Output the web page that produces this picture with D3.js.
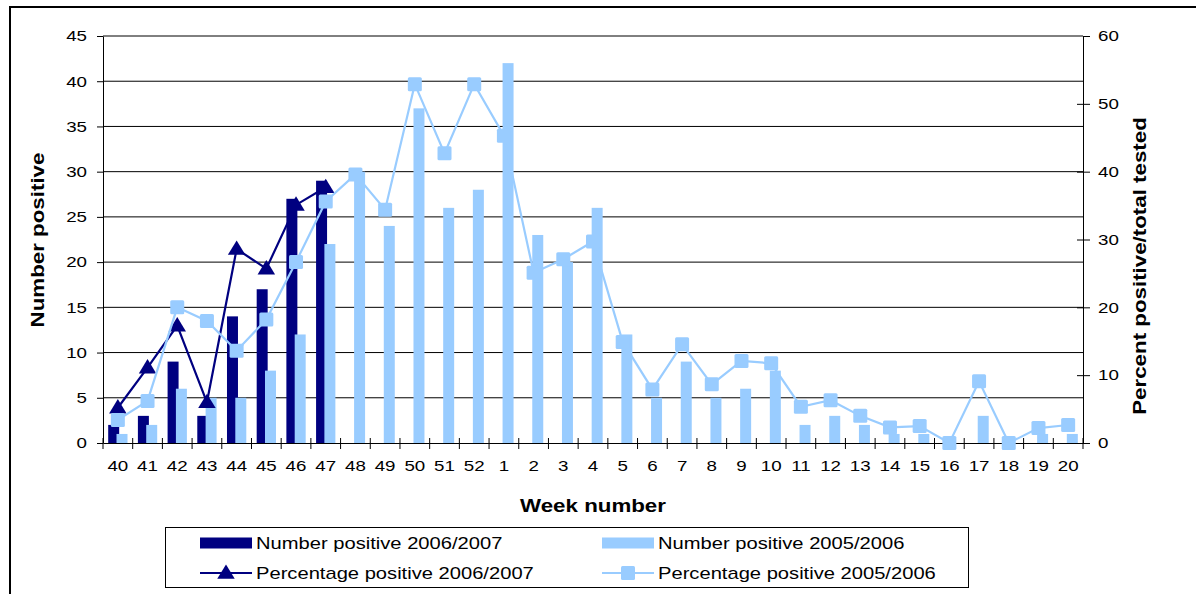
<!DOCTYPE html>
<html>
<head>
<meta charset="utf-8">
<script src="https://cdn.jsdelivr.net/npm/d3@7"></script>
<style>
  html, body { margin: 0; padding: 0; background: #fff; }
  svg { display: block; font-family: "Liberation Sans", Arial, sans-serif; }
  .sx { transform-box: fill-box; transform: scaleX(1.25); }
  .sx-end { transform-origin: right center; }
  .sx-start { transform-origin: left center; }
  .sx-mid { transform-origin: center center; }
</style>
</head>
<body>
<script>
// ---- data ----
const weeks = ["40","41","42","43","44","45","46","47","48","49","50","51","52",
               "1","2","3","4","5","6","7","8","9","10","11","12","13","14","15","16","17","18","19","20"];
const numPos0607 = [2, 3, 9, 3, 14, 17, 27, 29];                 // weeks 40-47
const numPos0506 = [1, 2, 6, 5, 5, 8, 12, 22, 30, 24, 37, 26, 28,
                    42, 23, 20, 26, 12, 5, 9, 5, 6, 8, 2, 3, 2, 1, 1, 0, 3, 0, 1, 1];
const pctPos0607 = [5.2, 11.1, 17.3, 6, 28.6, 25.7, 35.1, 37.7];
const pctPos0506 = [3.4, 6.2, 20, 18, 13.6, 18.2, 26.7, 35.6, 39.6, 34.4, 52.9, 42.7, 52.9,
                    45.3, 25.1, 27.1, 29.7, 14.9, 7.9, 14.55, 8.65, 12.1, 11.75, 5.35, 6.3, 4.0, 2.3, 2.5, 0, 9.1, 0, 2.2, 2.65];
const leftTicks = [0, 5, 10, 15, 20, 25, 30, 35, 40, 45];
const rightTicks = [0, 10, 20, 30, 40, 50, 60];
const legendLabels = ["Number positive 2006/2007", "Number positive 2005/2006",
                      "Percentage positive 2006/2007", "Percentage positive 2005/2006"];

const DARK = "#000080", LIGHT = "#99CCFF";
const W = 1196, H = 594;
const L = 103, R = 1083, T = 36, B = 443;

const svg = d3.select("body").append("svg").attr("width", W).attr("height", H);

// outer frame (partial)
svg.append("line").attr("x1", 9).attr("x2", W).attr("y1", 7).attr("y2", 7).attr("stroke", "#000").attr("stroke-width", 2);
svg.append("line").attr("x1", 10).attr("x2", 10).attr("y1", 6).attr("y2", H).attr("stroke", "#000").attr("stroke-width", 2);

const x = d3.scaleBand().domain(weeks).range([L, R]).padding(0);
const yL = d3.scaleLinear().domain([0, 45]).range([B, T]);
const yR = d3.scaleLinear().domain([0, 60]).range([B, T]);
const cw = x.bandwidth();
const bw = cw * 0.37, off = cw * 0.14;

// gridlines
svg.append("g").selectAll("line").data(leftTicks.filter(d => d > 0)).join("line")
  .attr("x1", L).attr("x2", R).attr("y1", d => yL(d)).attr("y2", d => yL(d))
  .attr("stroke", "#000").attr("stroke-width", 1);

// bars
svg.append("g").selectAll("rect").data(numPos0607).join("rect")
  .attr("x", (d, i) => x(weeks[i]) + cw / 2 - off - bw / 2)
  .attr("width", bw)
  .attr("y", d => yL(d)).attr("height", d => yL(0) - yL(d))
  .attr("fill", DARK);
svg.append("g").selectAll("rect").data(numPos0506).join("rect")
  .attr("x", (d, i) => x(weeks[i]) + cw / 2 + off - bw / 2)
  .attr("width", bw)
  .attr("y", d => yL(d)).attr("height", d => yL(0) - yL(d))
  .attr("fill", LIGHT);

// axes
const gL = svg.append("g").attr("transform", `translate(${L},0)`)
  .call(d3.axisLeft(yL).tickValues(leftTicks).tickSize(6).tickSizeOuter(0));
gL.selectAll("text").attr("x", -16).attr("class", "sx sx-end");

const gR = svg.append("g").attr("transform", `translate(${R},0)`)
  .call(d3.axisRight(yR).tickValues(rightTicks).tickSize(7).tickSizeOuter(0));
gR.selectAll("text").attr("x", 15).attr("class", "sx sx-start");
svg.append("g").attr("transform", `translate(${R},0)`)
  .call(d3.axisLeft(yR).tickValues(rightTicks.filter(d => d > 0 && d < 60)).tickSize(6).tickSizeOuter(0).tickFormat(""))
  .select(".domain").remove();

const gB = svg.append("g").attr("transform", `translate(0,${B})`)
  .call(d3.axisBottom(x).tickSize(0).tickSizeOuter(0));
gB.selectAll("text").attr("y", 17.5).attr("class", "sx sx-mid");
// category boundary ticks
svg.append("g").selectAll("line").data(weeks.map(w => x(w)).concat([R])).join("line")
  .attr("x1", d => d).attr("x2", d => d).attr("y1", B - 5).attr("y2", B + 6)
  .attr("stroke", "#000").attr("stroke-width", 1);

[gL, gR, gB].forEach(g => {
  g.selectAll("text").attr("font-size", 15).attr("fill", "#000")
    .attr("font-family", "Liberation Sans, Arial, sans-serif");
  g.selectAll("line").attr("stroke", "#000");
  g.select(".domain").attr("stroke", "#000");
});

// lines
const cx = w => x(w) + cw / 2;
const lineR = d3.line().x(d => cx(d.w)).y(d => yR(d.v));
const s0607 = pctPos0607.map((v, i) => ({ w: weeks[i], v }));
const s0506 = pctPos0506.map((v, i) => ({ w: weeks[i], v }));

const tri = d3.symbol().type(d3.symbolTriangle).size(120);
svg.append("path").datum(s0607).attr("d", lineR).attr("fill", "none").attr("stroke", DARK).attr("stroke-width", 2.2);
svg.append("g").selectAll("path").data(s0607).join("path")
  .attr("transform", d => `translate(${cx(d.w)},${yR(d.v) + 1}) scale(1.05,1)`)
  .attr("d", tri).attr("fill", DARK);

svg.append("path").datum(s0506).attr("d", lineR).attr("fill", "none").attr("stroke", LIGHT).attr("stroke-width", 2.2);
svg.append("g").selectAll("rect").data(s0506).join("rect")
  .attr("x", d => cx(d.w) - 7).attr("y", d => yR(d.v) - 7)
  .attr("width", 14).attr("height", 14).attr("rx", 1.5).attr("fill", LIGHT);

// axis titles
svg.append("text").attr("transform", "translate(44,240) rotate(-90) scale(1.24,1)")
  .attr("text-anchor", "middle").attr("font-size", 18).attr("font-weight", "bold").text("Number positive");
svg.append("text").attr("transform", "translate(1146,266) rotate(-90) scale(1.24,1)")
  .attr("text-anchor", "middle").attr("font-size", 18).attr("font-weight", "bold").text("Percent positive/total tested");
svg.append("text").attr("transform", "translate(593,512) scale(1.24,1)")
  .attr("text-anchor", "middle").attr("font-size", 18).attr("font-weight", "bold").text("Week number");

// legend
const lg = svg.append("g");
lg.append("rect").attr("x", 165.5).attr("y", 527.5).attr("width", 803).attr("height", 60)
  .attr("fill", "#fff").attr("stroke", "#000").attr("stroke-width", 1);
const items = [
  { c: DARK, type: "bar", x: 200, y: 543, label: legendLabels[0] },
  { c: LIGHT, type: "bar", x: 602, y: 543, label: legendLabels[1] },
  { c: DARK, type: "tri", x: 200, y: 573, label: legendLabels[2] },
  { c: LIGHT, type: "sq", x: 602, y: 573, label: legendLabels[3] }
];
items.forEach(it => {
  if (it.type === "bar") {
    lg.append("rect").attr("x", it.x).attr("y", it.y - 5.5).attr("width", 52).attr("height", 11).attr("fill", it.c);
  } else {
    lg.append("line").attr("x1", it.x).attr("x2", it.x + 52).attr("y1", it.y).attr("y2", it.y)
      .attr("stroke", it.c).attr("stroke-width", 2.2);
    if (it.type === "tri") {
      lg.append("path").attr("transform", `translate(${it.x + 26},${it.y + 1}) scale(1.05,1)`).attr("d", tri).attr("fill", it.c);
    } else {
      lg.append("rect").attr("x", it.x + 19).attr("y", it.y - 7).attr("width", 14).attr("height", 14).attr("rx", 1.5).attr("fill", it.c);
    }
  }
  lg.append("text").attr("transform", `translate(${it.x + 56},${it.y + 6}) scale(1.26,1)`)
    .attr("font-size", 16).attr("fill", "#000").text(it.label);
});
</script>
</body>
</html>
